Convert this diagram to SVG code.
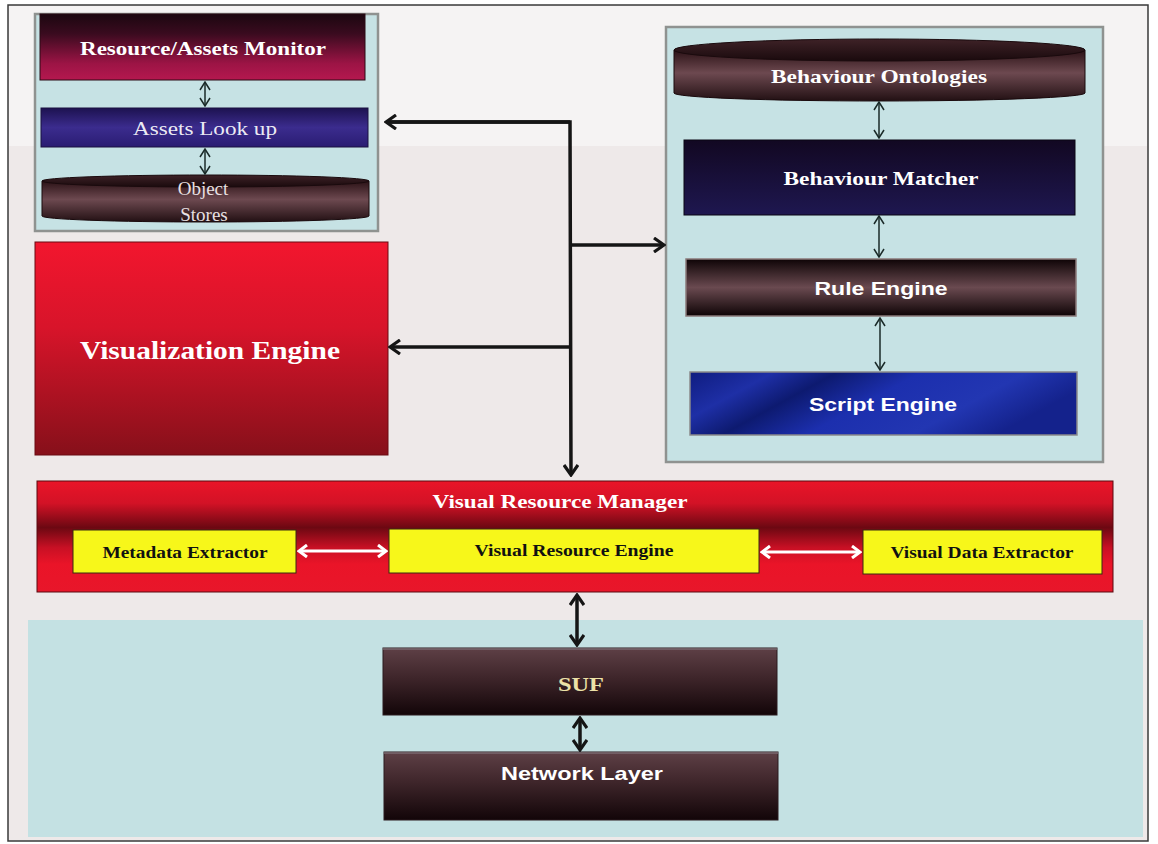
<svg xmlns="http://www.w3.org/2000/svg" width="1158" height="844" viewBox="0 0 1158 844">
<defs>
<style>
.serif{font-family:"Liberation Serif","Times New Roman",serif;}
.sans{font-family:"Liberation Sans",Arial,sans-serif;}
.w{fill:#ffffff;}
.b{font-weight:bold;}
.panel{fill:#c6e2e4;stroke:#8f9290;stroke-width:2.5;}
.thick{stroke:#151515;stroke-width:3.5;fill:none;}
.thin{stroke:#1a2a28;stroke-width:1.5;fill:none;}
.white{stroke:#ffffff;stroke-width:3;fill:none;}
.yel{fill:#f7f71a;stroke:#3a2a10;stroke-width:1;}
</style>
<linearGradient id="gMon" x1="0" y1="0" x2="0" y2="1">
<stop offset="0" stop-color="#1c0710"/><stop offset="0.3" stop-color="#3a0b1f"/><stop offset="0.75" stop-color="#9c1445"/><stop offset="1" stop-color="#b5184f"/>
</linearGradient>
<linearGradient id="gLook" x1="0" y1="0" x2="0" y2="1">
<stop offset="0" stop-color="#1d1250"/><stop offset="0.5" stop-color="#3b2c8e"/><stop offset="1" stop-color="#2a1c72"/>
</linearGradient>
<linearGradient id="gCyl" x1="0" y1="0" x2="0" y2="1">
<stop offset="0" stop-color="#2b1216"/><stop offset="0.45" stop-color="#6d4950"/><stop offset="1" stop-color="#221013"/>
</linearGradient>
<linearGradient id="gCylTop" x1="0" y1="0" x2="0" y2="1">
<stop offset="0" stop-color="#3e2227"/><stop offset="1" stop-color="#1a0a0d"/>
</linearGradient>
<linearGradient id="gVis" x1="0" y1="0" x2="0" y2="1">
<stop offset="0" stop-color="#f2162e"/><stop offset="0.4" stop-color="#d8142a"/><stop offset="1" stop-color="#86101a"/>
</linearGradient>
<linearGradient id="gMatch" x1="0" y1="0" x2="0" y2="1">
<stop offset="0" stop-color="#120822"/><stop offset="1" stop-color="#1e1750"/>
</linearGradient>
<linearGradient id="gRule" x1="0" y1="0" x2="0" y2="1">
<stop offset="0" stop-color="#0e0406"/><stop offset="0.5" stop-color="#6a4a50"/><stop offset="1" stop-color="#0e0406"/>
</linearGradient>
<linearGradient id="gScript" x1="0" y1="0" x2="1" y2="0.3">
<stop offset="0" stop-color="#0f1c80"/><stop offset="0.2" stop-color="#1e2fa6"/><stop offset="0.35" stop-color="#0d1a70"/><stop offset="0.55" stop-color="#1c2fae"/><stop offset="0.8" stop-color="#2236b2"/><stop offset="1" stop-color="#14228c"/>
</linearGradient>
<linearGradient id="gVrm" x1="0" y1="0" x2="0" y2="1">
<stop offset="0" stop-color="#ea1428"/><stop offset="0.2" stop-color="#d31226"/><stop offset="0.42" stop-color="#6c0812"/><stop offset="0.6" stop-color="#c81024"/><stop offset="0.75" stop-color="#ea1428"/><stop offset="1" stop-color="#e8162a"/>
</linearGradient>
<linearGradient id="gSuf" x1="0" y1="0" x2="0" y2="1">
<stop offset="0" stop-color="#5e4046"/><stop offset="0.45" stop-color="#3e252a"/><stop offset="1" stop-color="#120508"/>
</linearGradient>
<marker id="mThick" viewBox="0 0 14 16" refX="12" refY="8" markerWidth="14" markerHeight="16" markerUnits="userSpaceOnUse" orient="auto-start-reverse">
<path d="M2,1 L12,8 L2,15" fill="none" stroke="#151515" stroke-width="3.2" stroke-linejoin="miter"/>
</marker>
<marker id="mThin" viewBox="0 0 10 12" refX="9" refY="6" markerWidth="10" markerHeight="12" markerUnits="userSpaceOnUse" orient="auto-start-reverse">
<path d="M1,1 L9,6 L1,11" fill="none" stroke="#1a2a28" stroke-width="1.5"/>
</marker>
<marker id="mWhite" viewBox="0 0 12 14" refX="10" refY="7" markerWidth="12" markerHeight="14" markerUnits="userSpaceOnUse" orient="auto-start-reverse">
<path d="M2,1 L10,7 L2,13" fill="none" stroke="#ffffff" stroke-width="3"/>
</marker>
</defs>

<g id="background">
<rect x="8" y="5" width="1140" height="836" fill="#eee9e9" stroke="#3a3a3a" stroke-width="1.5"/>
<rect x="9" y="6" width="1138" height="140" fill="#f5f3f3"/>
</g>

<g id="assets-panel">
<rect class="panel" x="35" y="14" width="343" height="217"/>
</g>
<g id="resource-assets-monitor">
<rect x="40" y="14" width="325" height="66" fill="url(#gMon)" stroke="#2a0a14" stroke-width="1"/>
<text class="serif b w" x="203" y="55" font-size="19" text-anchor="middle" textLength="246" lengthAdjust="spacingAndGlyphs">Resource/Assets Monitor</text>
</g>
<g id="assets-look-up">
<rect x="41" y="108" width="327" height="39" fill="url(#gLook)" stroke="#1a1040" stroke-width="1"/>
<text class="serif w" x="205" y="135" font-size="19" text-anchor="middle" textLength="144" lengthAdjust="spacingAndGlyphs" fill-opacity="0.92">Assets Look up</text>
</g>
<g id="object-stores">
<path d="M42,181 L42,216 A163.5,6 0 0 0 369,216 L369,181 Z" fill="url(#gCyl)" stroke="#1a0a0d" stroke-width="1"/>
<ellipse cx="205.5" cy="181" rx="163.5" ry="6" fill="url(#gCylTop)" stroke="#1a0a0d" stroke-width="1"/>
<text class="serif" x="203" y="195" font-size="19" text-anchor="middle" fill="#e8e0e2">Object</text>
<text class="serif" x="204" y="221" font-size="19" text-anchor="middle" fill="#e8e0e2">Stores</text>
</g>

<g id="visualization-engine">
<rect x="35" y="242" width="353" height="213" fill="url(#gVis)" stroke="#6a0a12" stroke-width="1"/>
<text class="serif b w" x="210" y="359" font-size="25" text-anchor="middle" textLength="260" lengthAdjust="spacingAndGlyphs">Visualization Engine</text>
</g>

<g id="behaviour-panel">
<rect class="panel" x="666" y="27" width="437" height="435"/>
</g>
<g id="behaviour-ontologies">
<path d="M674,50 L674,93 A205.5,8 0 0 0 1085,93 L1085,50 Z" fill="url(#gCyl)" stroke="#1a0a0d" stroke-width="1"/>
<ellipse cx="879.5" cy="50" rx="205.5" ry="11" fill="url(#gCylTop)" stroke="#1a0a0d" stroke-width="1"/>
<text class="serif b w" x="879" y="83" font-size="19" text-anchor="middle" textLength="216" lengthAdjust="spacingAndGlyphs">Behaviour Ontologies</text>
</g>
<g id="behaviour-matcher">
<rect x="684" y="140" width="391" height="75" fill="url(#gMatch)" stroke="#0a0614" stroke-width="1"/>
<text class="serif b w" x="881" y="185" font-size="19" text-anchor="middle" textLength="195" lengthAdjust="spacingAndGlyphs">Behaviour Matcher</text>
</g>
<g id="rule-engine">
<rect x="686" y="259" width="390" height="57" fill="url(#gRule)" stroke="#8a7a7a" stroke-width="1.5"/>
<text class="sans b w" x="881" y="295" font-size="19" text-anchor="middle" textLength="133" lengthAdjust="spacingAndGlyphs">Rule Engine</text>
</g>
<g id="script-engine">
<rect x="690" y="372" width="387" height="63" fill="url(#gScript)" stroke="#8a8a8a" stroke-width="1.5"/>
<text class="sans b w" x="883" y="411" font-size="19" text-anchor="middle" textLength="148" lengthAdjust="spacingAndGlyphs">Script Engine</text>
</g>

<g id="visual-resource-manager">
<rect x="37" y="481" width="1076" height="111" fill="url(#gVrm)" stroke="#5a0a10" stroke-width="1"/>
<text class="serif b w" x="560" y="508" font-size="19" text-anchor="middle" textLength="255" lengthAdjust="spacingAndGlyphs">Visual Resource Manager</text>
</g>
<g id="metadata-extractor">
<rect class="yel" x="73" y="530" width="223" height="43"/>
<text class="serif b" x="185" y="558" font-size="16" text-anchor="middle" fill="#111" textLength="165" lengthAdjust="spacingAndGlyphs">Metadata Extractor</text>
</g>
<g id="visual-resource-engine">
<rect class="yel" x="389" y="529" width="370" height="44"/>
<text class="serif b" x="574" y="556" font-size="16" text-anchor="middle" fill="#111" textLength="199" lengthAdjust="spacingAndGlyphs">Visual Resource Engine</text>
</g>
<g id="visual-data-extractor">
<rect class="yel" x="863" y="530" width="239" height="44"/>
<text class="serif b" x="982" y="558" font-size="16" text-anchor="middle" fill="#111" textLength="183" lengthAdjust="spacingAndGlyphs">Visual Data Extractor</text>
</g>

<g id="network-panel">
<rect x="28" y="620" width="1115" height="217" fill="#c4e1e3"/>
</g>
<g id="suf">
<rect x="383" y="648" width="394" height="67" fill="url(#gSuf)" stroke="#2a1a1e" stroke-width="1"/>
<line x1="383" y1="649" x2="777" y2="649" stroke="#7a6a70" stroke-width="1.5"/>
<text class="serif b" x="581" y="691" font-size="19" text-anchor="middle" fill="#ece2a8" textLength="46" lengthAdjust="spacingAndGlyphs">SUF</text>
</g>
<g id="network-layer">
<rect x="384" y="752" width="394" height="68" fill="url(#gSuf)" stroke="#2a1a1e" stroke-width="1"/>
<line x1="384" y1="753" x2="778" y2="753" stroke="#7a6a70" stroke-width="1.5"/>
<text class="sans b w" x="582" y="780" font-size="19" text-anchor="middle" textLength="162" lengthAdjust="spacingAndGlyphs">Network Layer</text>
</g>

<g id="connectors">
<line class="thin" x1="205" y1="82" x2="205" y2="106" marker-start="url(#mThin)" marker-end="url(#mThin)"/>
<line class="thin" x1="205" y1="149" x2="205" y2="174" marker-start="url(#mThin)" marker-end="url(#mThin)"/>
<line class="thin" x1="879" y1="102" x2="879" y2="138" marker-start="url(#mThin)" marker-end="url(#mThin)"/>
<line class="thin" x1="879" y1="216" x2="879" y2="257" marker-start="url(#mThin)" marker-end="url(#mThin)"/>
<line class="thin" x1="880" y1="318" x2="880" y2="370" marker-start="url(#mThin)" marker-end="url(#mThin)"/>
<polyline class="thick" points="386,122 570,122 571,475" marker-end="url(#mThick)"/>
<line class="thick" x1="570" y1="122" x2="386" y2="122" marker-end="url(#mThick)"/>
<line class="thick" x1="571" y1="245" x2="664" y2="245" marker-end="url(#mThick)"/>
<line class="thick" x1="571" y1="347" x2="390" y2="347" marker-end="url(#mThick)"/>
<line class="white" x1="299" y1="551" x2="386" y2="551" marker-start="url(#mWhite)" marker-end="url(#mWhite)"/>
<line class="white" x1="762" y1="552" x2="860" y2="552" marker-start="url(#mWhite)" marker-end="url(#mWhite)"/>
<line class="thick" x1="577" y1="595" x2="577" y2="645" marker-start="url(#mThick)" marker-end="url(#mThick)"/>
<line class="thick" x1="580" y1="718" x2="580" y2="750" marker-start="url(#mThick)" marker-end="url(#mThick)"/>
</g>
</svg>
